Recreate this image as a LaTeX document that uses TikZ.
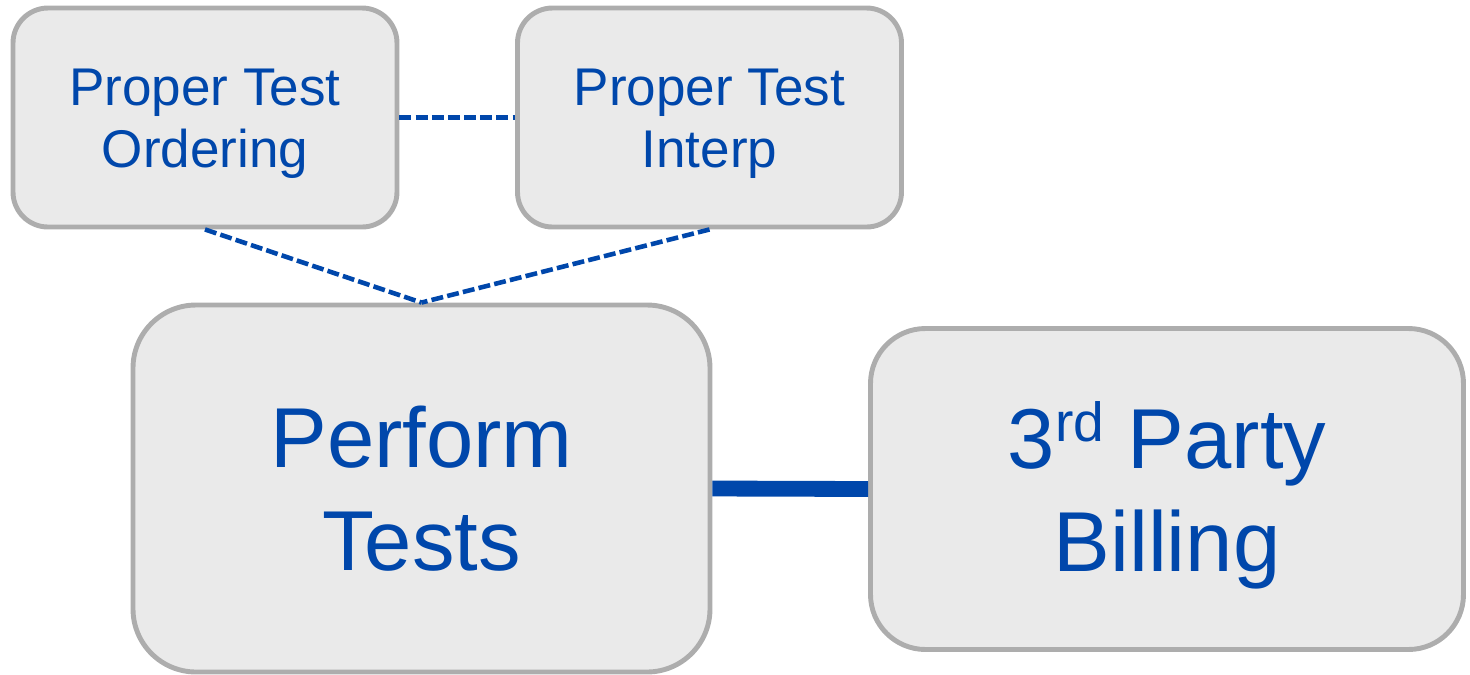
\documentclass[tikz,border=0pt]{standalone}
\usepackage{fontspec}
\setmainfont{Liberation Sans}
\definecolor{boxfill}{HTML}{EAEAEA}
\definecolor{boxline}{HTML}{ADADAD}
\definecolor{txtblue}{HTML}{0047AB}
\newcommand{\topstrut}[1]{\rule{0pt}{#1}}
\begin{document}
\begin{tikzpicture}[x=0.1mm,y=-0.1mm,
  box/.style={draw=boxline, fill=boxfill, line width=1.4pt, inner sep=0pt,
    align=center, text=txtblue},
  smallbox/.style={box, rounded corners=3.5mm, minimum width=38.4mm, minimum height=21.9mm,
    font=\fontsize{15.1pt}{17.6pt}\selectfont},
  bigbox/.style={box, font=\fontsize{24.2pt}{29.3pt}\selectfont},
  dashlink/.style={draw=txtblue, line width=1.3pt, dash pattern=on 3.4pt off 1.2pt},
  thicklink/.style={draw=txtblue, line width=4.5pt}]
\useasboundingbox (0,0) rectangle (1470,674);
\node[smallbox] (ord) at (205,117.5) {\topstrut{13.9pt}Proper Test\\Ordering};
\node[smallbox] (interp) at (709.5,117.5) {\topstrut{13.9pt}Proper Test\\Interp};
\node[bigbox, rounded corners=6.3mm, minimum width=57.7mm, minimum height=36.7mm] (perf) at (421.5,488.5) {Perform\\Tests};
\node[bigbox, rounded corners=5.5mm, minimum width=59.3mm, minimum height=32.1mm] (bill) at (1167,489) {\topstrut{22.4pt}3\raisebox{7.7pt}{\fontsize{15.7pt}{18pt}\selectfont rd} Party\\Billing};
\draw[dashlink] (ord.east) -- (interp.west);
\draw[dashlink] (ord.south) -- (perf.north);
\draw[dashlink] (interp.south) -- (perf.north);
\draw[thicklink] (perf.east) -- (bill.west);
\end{tikzpicture}
\end{document}
